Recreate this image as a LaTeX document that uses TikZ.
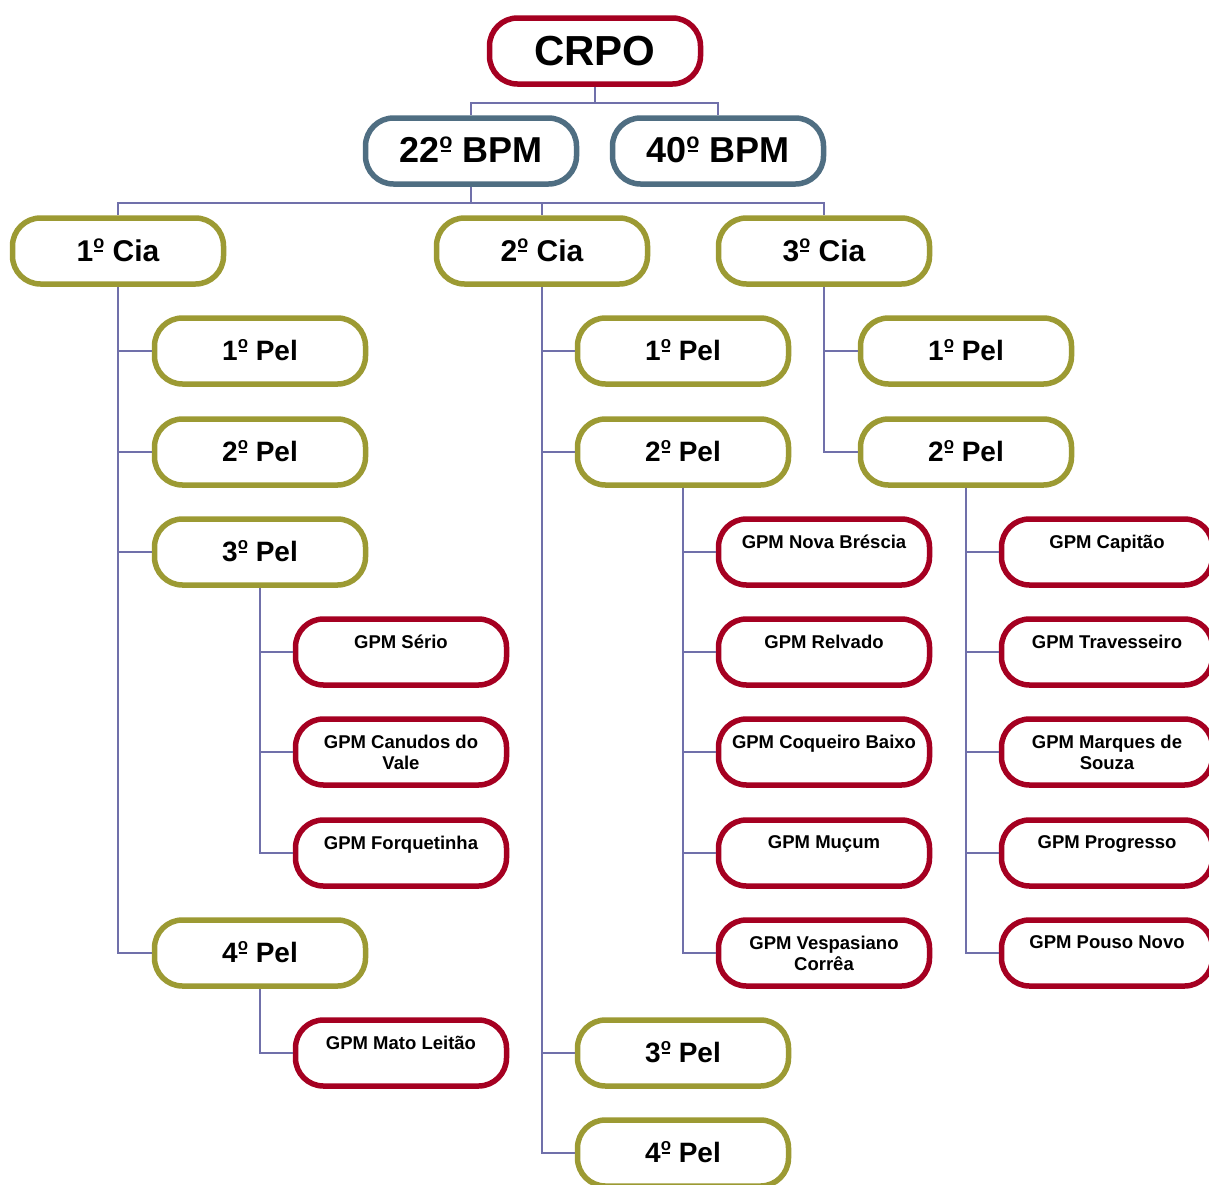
\documentclass[tikz,border=0pt]{standalone}
\usepackage{fontspec}
\setmainfont{Liberation Sans}
\definecolor{cred}{HTML}{A50021}
\definecolor{cslate}{HTML}{4F6E82}
\definecolor{colive}{HTML}{9C9A33}
\definecolor{cline}{HTML}{7070AA}
\newcommand\mordm{\raisebox{0.31em}{\ooalign{\raisebox{0.1em}{\scalebox{0.6}{o}}\cr\hfil\rule{0.3em}{0.06em}\hfil\cr}}}
\begin{document}
\begin{tikzpicture}[x=1pt,y=-1pt,
  box/.style={draw, line width=5.5pt, fill=white, rounded corners=28pt,
    minimum width=211pt, minimum height=66pt, inner sep=0pt, align=center},
  topbox/.style={box, draw=cred, font=\fontsize{42}{46}\selectfont\bfseries},
  bpmbox/.style={box, draw=cslate, font=\fontsize{36}{40}\selectfont\bfseries, text depth=0.25em},
  ciabox/.style={box, draw=colive, font=\fontsize{30}{34}\selectfont\bfseries, text depth=0.17em},
  pelbox/.style={box, draw=colive, font=\fontsize{28}{32}\selectfont\bfseries, text depth=0.2em},
  gpmbox/.style={box, draw=cred, font=\fontsize{18.5}{21}\selectfont\bfseries},
  conn/.style={draw=cline, line width=1.6pt}]
\useasboundingbox (0,0) rectangle (1209,1184);
\clip (0,0) rectangle (1209,1184);

\node[topbox] (crpo) at (595,51) {CRPO};
\node[bpmbox] (b22) at (471,151) {22\mordm{} BPM};
\node[bpmbox] (b40) at (718,151) {40\mordm{} BPM};
\node[ciabox] (c1) at (118,251) {1\mordm{} Cia};
\node[ciabox] (c2) at (542,251) {2\mordm{} Cia};
\node[ciabox] (c3) at (824,251) {3\mordm{} Cia};

\node[pelbox] (c1p1) at (260,351) {1\mordm{} Pel};
\node[pelbox] (c1p2) at (260,452) {2\mordm{} Pel};
\node[pelbox] (c1p3) at (260,552) {3\mordm{} Pel};
\node[pelbox] (c1p4) at (260,953) {4\mordm{} Pel};
\node[gpmbox] (g1) at (401,652) {GPM Sério\\\mbox{}};
\node[gpmbox] (g2) at (401,752) {GPM Canudos do\\Vale};
\node[gpmbox] (g3) at (401,853) {GPM Forquetinha\\\mbox{}};
\node[gpmbox] (g4) at (401,1053) {GPM Mato Leitão\\\mbox{}};

\node[pelbox] (c2p1) at (683,351) {1\mordm{} Pel};
\node[pelbox] (c2p2) at (683,452) {2\mordm{} Pel};
\node[pelbox] (c2p3) at (683,1053) {3\mordm{} Pel};
\node[pelbox] (c2p4) at (683,1153) {4\mordm{} Pel};
\node[gpmbox] (h1) at (824,552) {GPM Nova Bréscia\\\mbox{}};
\node[gpmbox] (h2) at (824,652) {GPM Relvado\\\mbox{}};
\node[gpmbox] (h3) at (824,752) {GPM Coqueiro Baixo\\\mbox{}};
\node[gpmbox] (h4) at (824,853) {GPM Muçum\\\mbox{}};
\node[gpmbox] (h5) at (824,953) {GPM Vespasiano\\Corrêa};

\node[pelbox] (c3p1) at (966,351) {1\mordm{} Pel};
\node[pelbox] (c3p2) at (966,452) {2\mordm{} Pel};
\node[gpmbox] (k1) at (1107,552) {GPM Capitão\\\mbox{}};
\node[gpmbox] (k2) at (1107,652) {GPM Travesseiro\\\mbox{}};
\node[gpmbox] (k3) at (1107,752) {GPM Marques de\\Souza};
\node[gpmbox] (k4) at (1107,853) {GPM Progresso\\\mbox{}};
\node[gpmbox] (k5) at (1107,953) {GPM Pouso Novo\\\mbox{}};

\begin{scope}[every path/.style={conn}]
\draw (crpo.south) -- ++(0,16) -| (b22.north);
\draw (crpo.south) -- ++(0,16) -| (b40.north);
\draw (b22.south) -- ++(0,16) -| (c1.north);
\draw (b22.south) -- ++(0,16) -| (c2.north);
\draw (b22.south) -- ++(0,16) -| (c3.north);

\foreach \p in {c1p1,c1p2,c1p3,c1p4} \draw (c1.south) |- (\p.west);
\foreach \p in {g1,g2,g3} \draw (c1p3.south) |- (\p.west);
\draw (c1p4.south) |- (g4.west);

\foreach \p in {c2p1,c2p2,c2p3,c2p4} \draw (c2.south) |- (\p.west);
\foreach \p in {h1,h2,h3,h4,h5} \draw (c2p2.south) |- (\p.west);

\foreach \p in {c3p1,c3p2} \draw (c3.south) |- (\p.west);
\foreach \p in {k1,k2,k3,k4,k5} \draw (c3p2.south) |- (\p.west);
\end{scope}
\end{tikzpicture}
\end{document}
